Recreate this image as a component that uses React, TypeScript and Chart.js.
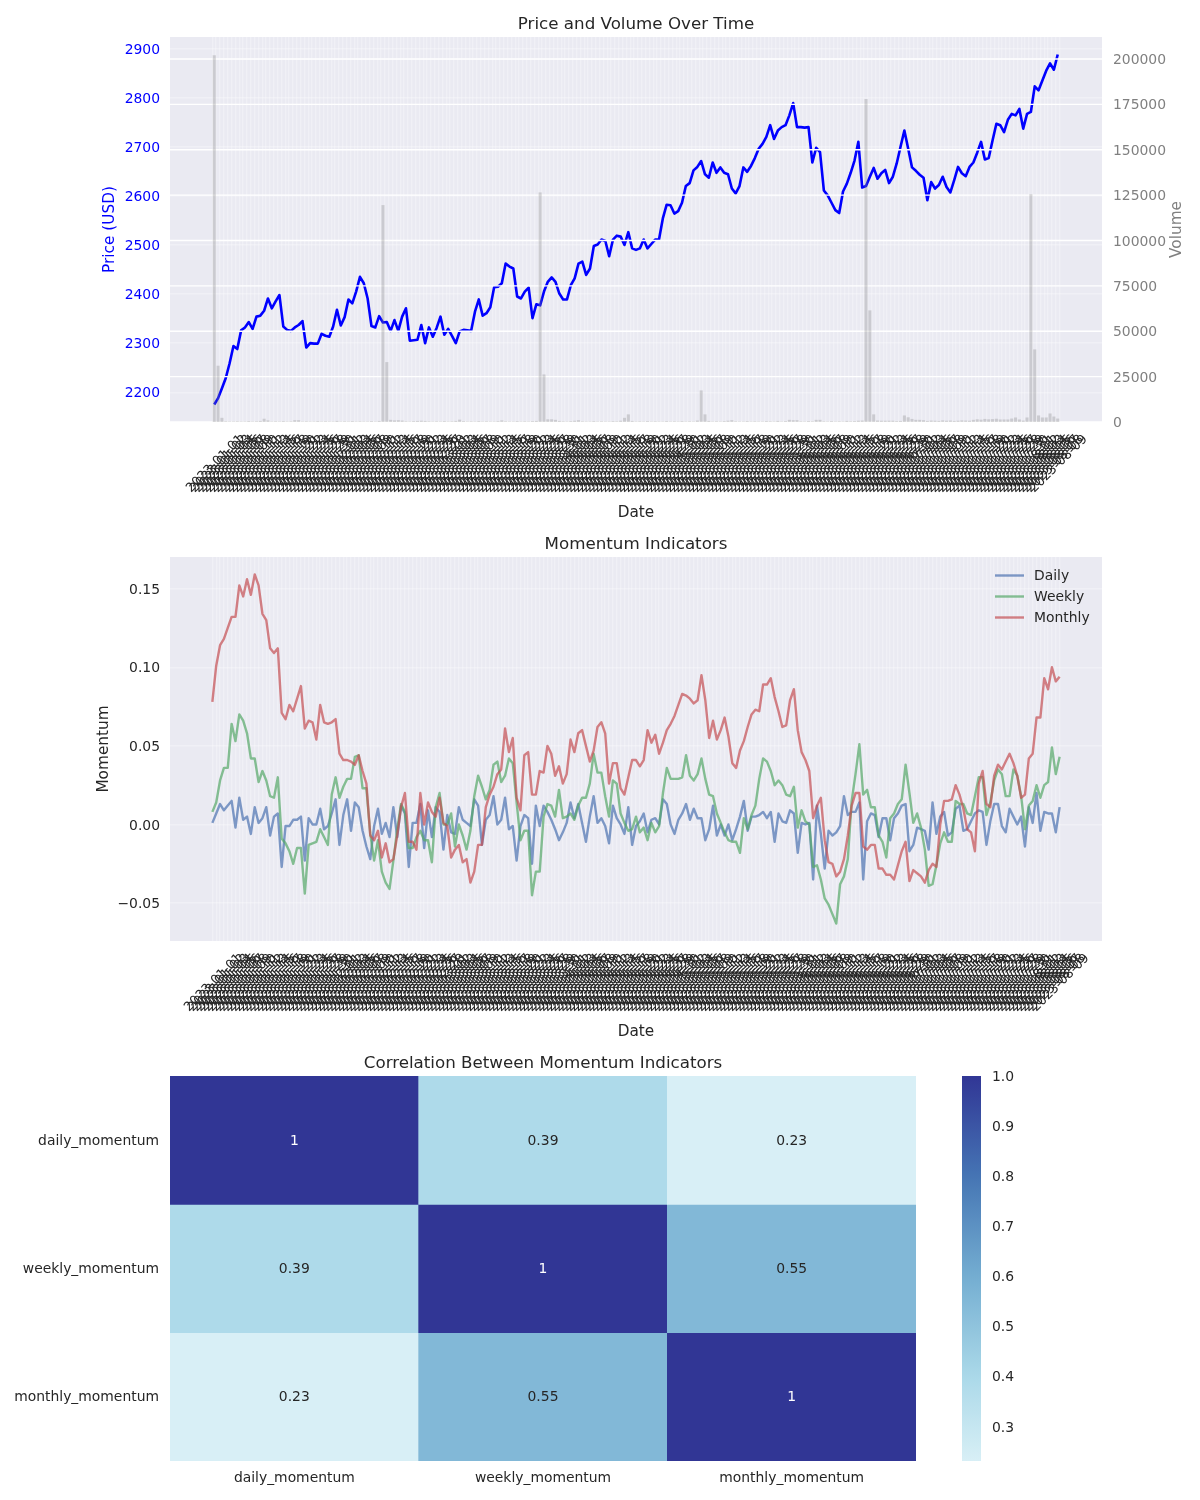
import React, { useEffect, useRef } from 'react';
import { Chart, registerables } from 'chart.js';

Chart.register(...registerables);

// ---------------- data ----------------
const START_DATE = '2023-01-01';

const PRICE = [
  2175, 2188, 2208, 2229, 2259, 2294, 2288, 2326, 2332, 2343,
  2329, 2354, 2356, 2366, 2391, 2371, 2385, 2398, 2334, 2327,
  2325, 2332, 2337, 2345, 2291, 2300, 2299, 2299, 2319, 2315,
  2313, 2334, 2368, 2336, 2353, 2389, 2381, 2405, 2435, 2422,
  2391, 2335, 2332, 2355, 2342, 2343, 2325, 2347, 2325, 2354,
  2371, 2305, 2306, 2307, 2337, 2300, 2332, 2313, 2331, 2354,
  2317, 2329, 2315, 2300, 2324, 2327, 2326, 2325, 2364, 2389,
  2356, 2361, 2373, 2414, 2415, 2422, 2462, 2456, 2452, 2395,
  2391, 2405, 2413, 2351, 2379, 2377, 2405, 2425, 2434, 2425,
  2401, 2389, 2389, 2418, 2432, 2462, 2466, 2439, 2452, 2498,
  2501, 2511, 2508, 2477, 2511, 2519, 2517, 2500, 2526, 2493,
  2490, 2493, 2511, 2493, 2502, 2511, 2511, 2554, 2582, 2581,
  2564, 2569, 2586, 2620, 2626, 2652, 2659, 2671, 2644, 2637,
  2668, 2647, 2658, 2647, 2644, 2615, 2605, 2620, 2658, 2649,
  2661, 2677, 2696, 2706, 2720, 2744, 2716, 2733, 2740, 2744,
  2764, 2789, 2740, 2740, 2739, 2740, 2668, 2698, 2689, 2611,
  2601, 2586, 2571, 2565, 2609, 2625, 2647, 2672, 2710, 2617,
  2620, 2639, 2657, 2635, 2646, 2653, 2626, 2639, 2666, 2700,
  2733, 2696, 2658, 2651, 2643, 2637, 2591, 2628, 2615, 2622,
  2639, 2618, 2607, 2632, 2659, 2646, 2640, 2659, 2668, 2688,
  2710, 2674, 2677, 2713, 2747, 2744, 2730, 2755, 2767, 2764,
  2777, 2737, 2767, 2771, 2823, 2815, 2835, 2855, 2870, 2857, 2888,
];

const VOLUME = [
  202000, 31000, 2300, 400, 300, 300, 400, 300, 300, 500,
  300, 400, 600, 1800, 900, 300, 400, 300, 500, 300,
  400, 1000, 1000, 300, 400, 300, 300, 500, 300, 400,
  300, 300, 600, 300, 400, 300, 500, 300, 400, 300,
  300, 500, 300, 600, 119500, 33000, 1200, 900, 1000, 800,
  400, 300, 500, 600, 700, 600, 400, 300, 400, 300,
  500, 300, 400, 600, 1300, 500, 300, 400, 300, 500,
  300, 400, 300, 300, 500, 900, 400, 300, 300, 500,
  300, 400, 300, 500, 600, 126500, 26200, 1500, 1500, 1200,
  600, 400, 300, 500, 700, 1000, 400, 300, 300, 500,
  300, 400, 300, 300, 500, 400, 700, 2300, 4200, 600,
  300, 400, 300, 500, 300, 400, 300, 300, 500, 300,
  400, 300, 500, 300, 400, 300, 800, 17400, 4200, 600,
  300, 400, 300, 500, 700, 1000, 400, 300, 300, 500,
  300, 400, 300, 300, 500, 400, 300, 600, 300, 500,
  1200, 1000, 1000, 400, 300, 500, 400, 1200, 1200, 400,
  300, 500, 300, 400, 300, 600, 400, 500, 700, 800,
  178000, 61500, 4200, 800, 700, 700, 700, 700, 500, 600,
  3600, 2600, 1700, 1200, 1200, 1000, 600, 800, 700, 600,
  900, 700, 800, 600, 700, 900, 800, 700, 1200, 1500,
  1300, 1700, 1500, 1600, 1800, 1400, 1400, 1400, 1900, 2500,
  1400, 800, 2500, 125500, 40000, 3600, 2500, 2500, 4700, 3000, 1900,
];

const DAILY_MOMENTUM = [
  0.001, 0.007, 0.013, 0.009, 0.012, 0.015, -0.002, 0.017, 0.003, 0.005,
  -0.006, 0.011, 0.001, 0.004, 0.011, -0.007, 0.005, 0.007, -0.027, -0.001,
  -0.001, 0.003, 0.003, 0.005, -0.023, 0.004, 0.000, 0.000, 0.010, -0.003,
  -0.001, 0.007, 0.016, -0.013, 0.006, 0.016, -0.004, 0.014, 0.011, -0.004,
  -0.014, -0.022, -0.001, 0.010, -0.006, 0.001, -0.008, 0.011, -0.008, 0.012,
  0.007, -0.027, 0.001, 0.001, 0.013, -0.015, 0.009, -0.008, 0.011, 0.008,
  -0.016, 0.006, -0.005, -0.006, 0.011, 0.003, 0.001, -0.001, 0.016, 0.012,
  -0.013, 0.003, 0.006, 0.018, 0.000, 0.003, 0.017, -0.003, -0.001, -0.023,
  -0.001, 0.006, 0.004, -0.025, 0.012, -0.001, 0.012, 0.008, 0.003, -0.003,
  -0.010, -0.005, 0.001, 0.014, 0.004, 0.013, 0.001, -0.011, 0.005, 0.018,
  0.001, 0.004, -0.001, -0.012, 0.012, 0.004, 0.000, -0.006, 0.011, -0.013,
  -0.001, 0.002, 0.007, -0.005, 0.003, 0.004, 0.000, 0.016, 0.013, 0.000,
  -0.006, 0.003, 0.007, 0.013, 0.003, 0.010, 0.004, 0.004, -0.010, -0.003,
  0.012, -0.007, 0.000, -0.007, 0.000, -0.010, -0.003, 0.005, 0.015, -0.004,
  0.005, 0.005, 0.006, 0.008, 0.004, 0.008, -0.011, 0.007, 0.002, 0.001,
  0.009, 0.007, -0.018, 0.001, 0.000, 0.001, -0.035, 0.012, -0.006, -0.028,
  -0.004, -0.007, -0.005, -0.001, 0.018, 0.006, 0.008, 0.008, 0.014, -0.035,
  0.002, 0.007, 0.006, -0.008, 0.004, 0.004, -0.010, 0.004, 0.007, 0.012,
  0.013, -0.017, -0.013, -0.002, -0.003, -0.004, -0.016, 0.014, -0.006, 0.005,
  0.008, -0.007, -0.005, 0.010, 0.012, -0.004, -0.003, 0.002, 0.007, 0.009,
  0.008, -0.013, 0.002, 0.013, 0.013, -0.001, -0.005, 0.010, 0.005, 0.000,
  0.005, -0.014, 0.011, 0.001, 0.020, -0.004, 0.008, 0.007, 0.007, -0.005, 0.011,
];

const WEEKLY_MOMENTUM = [
  0.008, 0.014, 0.028, 0.036, 0.036, 0.064, 0.053, 0.070, 0.066, 0.058,
  0.042, 0.042, 0.027, 0.034, 0.028, 0.018, 0.017, 0.030, -0.009, -0.012,
  -0.017, -0.025, -0.015, -0.015, -0.044, -0.013, -0.012, -0.011, -0.003, -0.008,
  -0.013, 0.019, 0.030, 0.017, 0.024, 0.029, 0.029, 0.043, 0.044, 0.023,
  0.023, -0.006, -0.023, -0.010, -0.030, -0.037, -0.041, -0.023, -0.003, 0.013,
  0.008, -0.015, -0.015, -0.008, -0.004, -0.010, -0.010, -0.024, 0.011, 0.020,
  0.000, 0.000, 0.007, -0.014, 0.000, -0.007, -0.016, -0.004, 0.018, 0.031,
  0.024, 0.016, 0.022, 0.038, 0.040, 0.027, 0.031, 0.042, 0.039, 0.014,
  -0.010, -0.004, -0.004, -0.045, -0.030, -0.030, 0.005, 0.013, 0.012, 0.005,
  0.022, 0.004, 0.005, 0.007, 0.003, 0.012, 0.017, 0.017, 0.026, 0.045,
  0.033, 0.033, 0.018, 0.005, 0.028, 0.026, 0.007, 0.001, -0.004, -0.003,
  0.005, -0.005, -0.002, -0.010, 0.001, -0.005, -0.001, 0.020, 0.036, 0.029,
  0.029, 0.029, 0.030, 0.044, 0.031, 0.028, 0.032, 0.042, 0.029, 0.019,
  0.018, 0.007, 0.001, -0.005, -0.010, -0.011, -0.011, -0.018, 0.004, -0.003,
  0.006, 0.012, 0.029, 0.042, 0.040, 0.034, 0.025, 0.028, 0.025, 0.019,
  0.018, 0.024, -0.002, 0.009, 0.002, 0.000, -0.027, -0.026, -0.035, -0.047,
  -0.051, -0.057, -0.063, -0.038, -0.033, -0.022, 0.015, 0.032, 0.051, 0.019,
  0.022, 0.011, 0.011, -0.007, -0.011, -0.021, 0.004, 0.007, 0.013, 0.016,
  0.038, 0.020, 0.001, 0.007, -0.002, -0.016, -0.039, -0.038, -0.026, -0.012,
  -0.005, -0.011, -0.011, 0.015, 0.013, 0.013, 0.007, 0.006, 0.018, 0.030,
  0.030, 0.006, 0.014, 0.028, 0.035, 0.032, 0.018, 0.018, 0.035, 0.031,
  0.018, -0.003, 0.012, 0.015, 0.025, 0.017, 0.025, 0.027, 0.049, 0.032, 0.043,
];

const MONTHLY_MOMENTUM = [
  0.078, 0.101, 0.114, 0.118, 0.125, 0.132, 0.132, 0.152, 0.145, 0.156,
  0.146, 0.159, 0.152, 0.134, 0.130, 0.112, 0.109, 0.112, 0.071, 0.067,
  0.076, 0.072, 0.080, 0.088, 0.061, 0.066, 0.065, 0.054, 0.076, 0.065,
  0.064, 0.065, 0.067, 0.045, 0.041, 0.041, 0.040, 0.038, 0.044, 0.034,
  0.026, -0.007, -0.010, -0.004, -0.021, -0.012, -0.024, -0.022, -0.007, 0.011,
  0.020, -0.011, -0.011, -0.016, 0.020, 0.000, 0.014, 0.008, 0.005, 0.017,
  0.001, -0.001, -0.021, -0.016, -0.013, -0.024, -0.022, -0.037, -0.030, -0.013,
  -0.013, 0.011, 0.019, 0.024, 0.032, 0.035, 0.061, 0.046, 0.055, 0.017,
  0.009, 0.044, 0.046, 0.019, 0.019, 0.034, 0.033, 0.050, 0.045, 0.031,
  0.037, 0.026, 0.032, 0.054, 0.046, 0.058, 0.060, 0.050, 0.040, 0.047,
  0.062, 0.065, 0.058, 0.026, 0.039, 0.039, 0.023, 0.019, 0.030, 0.041,
  0.041, 0.037, 0.041, 0.060, 0.052, 0.057, 0.045, 0.052, 0.060, 0.064,
  0.069, 0.076, 0.083, 0.082, 0.080, 0.077, 0.079, 0.095, 0.079, 0.055,
  0.066, 0.054, 0.060, 0.068, 0.056, 0.039, 0.036, 0.047, 0.053, 0.062,
  0.070, 0.073, 0.072, 0.089, 0.089, 0.093, 0.081, 0.072, 0.062, 0.063,
  0.079, 0.086, 0.060, 0.046, 0.041, 0.034, 0.004, 0.012, 0.017, -0.010,
  -0.024, -0.025, -0.033, -0.030, -0.022, -0.007, 0.012, 0.020, 0.020, -0.014,
  -0.016, -0.013, -0.013, -0.028, -0.028, -0.032, -0.032, -0.035, -0.026, -0.017,
  -0.011, -0.036, -0.029, -0.031, -0.033, -0.037, -0.029, -0.025, -0.027, 0.000,
  0.015, 0.015, 0.016, 0.025, 0.019, 0.010, -0.003, -0.005, -0.017, 0.026,
  0.034, 0.013, 0.011, 0.031, 0.038, 0.035, 0.040, 0.045, 0.039, 0.031,
  0.017, 0.019, 0.042, 0.045, 0.068, 0.068, 0.093, 0.086, 0.100, 0.091, 0.094,
];

const PRICE_TICKS = [2200, 2300, 2400, 2500, 2600, 2700, 2800, 2900];
const VOLUME_TICKS = [0, 25000, 50000, 75000, 100000, 125000, 150000, 175000, 200000];
const MOMENTUM_TICKS = [-0.05, 0, 0.05, 0.1, 0.15];
const SERIES_NAMES = ['Daily', 'Weekly', 'Monthly'];

const CORR_LABELS = ['daily_momentum', 'weekly_momentum', 'monthly_momentum'];
const CORR_DAILY = [1, 0.39, 0.232];
const CORR_WEEKLY = [0.39, 1, 0.55];
const CORR_MONTHLY = [0.232, 0.55, 1];
const COLORBAR_TICKS = [0.3, 0.4, 0.5, 0.6, 0.7, 0.8, 0.9, 1.0];

// ---------------- style ----------------
const FAMILY = "'DejaVu Sans', 'Liberation Sans', sans-serif";
const TEXT = '#262626';
const BG = '#eaeaf2';
const GRID_FAINT = 'rgba(255,255,255,0.3)';
const SERIES_COLORS = ['rgba(76,114,176,0.7)', 'rgba(85,168,104,0.7)', 'rgba(196,78,82,0.7)'];
const XTICK_SIZE = 13;
const TICK_SIZE = 13.9;
const LABEL_SIZE = 15.3;
const TITLE_SIZE = 16.7;
const Y_LABEL_SHIFT = 1.5;

const RDYLBU = ['#a50026', '#d73027', '#f46d43', '#fdae61', '#fee090', '#ffffbf', '#e0f3f8', '#abd9e9', '#74add1', '#4575b4', '#313695'];

function font(px: number) {
  return `${px}px ${FAMILY}`;
}

function makeDates(start: string, n: number): string[] {
  const base = new Date(start + 'T00:00:00Z').getTime();
  const out: string[] = [];
  for (let i = 0; i < n; i++) out.push(new Date(base + i * 86400000).toISOString().slice(0, 10));
  return out;
}
const DATES = makeDates(START_DATE, PRICE.length);

function paddedRange(values: number[], frac = 0.05): [number, number] {
  const lo = Math.min(...values);
  const hi = Math.max(...values);
  const d = (hi - lo) * frac;
  return [lo - d, hi + d];
}

function hexRgb(h: string): number[] {
  return [parseInt(h.slice(1, 3), 16), parseInt(h.slice(3, 5), 16), parseInt(h.slice(5, 7), 16)];
}

function cmapRgb(t: number): number[] {
  const tt = Math.max(0, Math.min(1, t));
  const p = tt * 10;
  const i = Math.min(9, Math.floor(p));
  const f = p - i;
  const a = hexRgb(RDYLBU[i]);
  const b = hexRgb(RDYLBU[i + 1]);
  return [0, 1, 2].map((k) => a[k] + (b[k] - a[k]) * f);
}

const CORR = [CORR_DAILY, CORR_WEEKLY, CORR_MONTHLY];
const CORR_MIN = Math.min(...CORR.flat());
const CORR_MAX = Math.max(...CORR.flat());
const CENTER = 0;
const VRANGE = Math.max(CORR_MAX - CENTER, CENTER - CORR_MIN);

function corrRgb(v: number): number[] {
  return cmapRgb((v - (CENTER - VRANGE)) / (2 * VRANGE));
}
function rgbStr(c: number[]) {
  return `rgb(${Math.round(c[0])},${Math.round(c[1])},${Math.round(c[2])})`;
}
function luminance(c: number[]) {
  const lin = c.map((x) => {
    const s = x / 255;
    return s <= 0.03928 ? s / 12.92 : Math.pow((s + 0.055) / 1.055, 2.4);
  });
  return 0.2126 * lin[0] + 0.7152 * lin[1] + 0.0722 * lin[2];
}

function drawText(ctx: any, text: string, x: number, y: number, size: number, color: string, rot = 0, align = 'center') {
  ctx.save();
  ctx.translate(x, y);
  if (rot) ctx.rotate(rot);
  ctx.fillStyle = color;
  ctx.font = font(size);
  ctx.textAlign = align;
  ctx.textBaseline = 'middle';
  ctx.fillText(text, 0, 0);
  ctx.restore();
}

function drawDateLabels(chart: any) {
  const { ctx, chartArea: a } = chart;
  const xs = chart.scales.x;
  ctx.save();
  ctx.fillStyle = TEXT;
  ctx.font = font(XTICK_SIZE);
  ctx.textAlign = 'center';
  ctx.textBaseline = 'alphabetic';
  DATES.forEach((d, i) => {
    const px = xs.getPixelForValue(i);
    ctx.save();
    ctx.translate(px, a.bottom + 41);
    ctx.rotate(-Math.PI / 4);
    ctx.fillText(d, 0, XTICK_SIZE * 0.36);
    ctx.restore();
  });
  ctx.restore();
}

function seriesDecor(cfg: any) {
  return {
    id: 'decor',
    beforeDraw(chart: any) {
      const { ctx, chartArea: a } = chart;
      ctx.save();
      ctx.fillStyle = BG;
      ctx.fillRect(a.left, a.top, a.right - a.left, a.bottom - a.top);
      ctx.restore();
    },
    beforeDatasetDraw(chart: any, args: any) {
      if (!cfg.volumeGrid || args.meta.type !== 'bar') return;
      const { ctx, chartArea: a } = chart;
      const s = chart.scales.y2;
      ctx.save();
      ctx.strokeStyle = '#ffffff';
      ctx.lineWidth = 1.4;
      s.ticks.forEach((t: any) => {
        const y = s.getPixelForValue(t.value);
        ctx.beginPath();
        ctx.moveTo(a.left, y);
        ctx.lineTo(a.right, y);
        ctx.stroke();
      });
      ctx.restore();
    },
    afterDraw(chart: any) {
      const { ctx, chartArea: a } = chart;
      const cx = (a.left + a.right) / 2;
      const cy = (a.top + a.bottom) / 2;
      drawDateLabels(chart);
      drawText(ctx, cfg.title, cx, a.top - 12.8, TITLE_SIZE, TEXT);
      drawText(ctx, 'Date', cx, a.bottom + 91.5, LABEL_SIZE, TEXT);
      drawText(ctx, cfg.yLabel, a.left - cfg.yLabelOffset, cy, LABEL_SIZE, cfg.yLabelColor, -Math.PI / 2);
      if (cfg.y2Label) drawText(ctx, cfg.y2Label, a.right + 75, cy, LABEL_SIZE, cfg.y2LabelColor, -Math.PI / 2);
      if (cfg.legend) {
        cfg.legend.forEach((item: any, k: number) => {
          const y = a.top + 18.5 + k * 21;
          ctx.save();
          ctx.strokeStyle = item.color;
          ctx.lineWidth = 2.4;
          ctx.beginPath();
          ctx.moveTo(a.right - 107, y);
          ctx.lineTo(a.right - 78, y);
          ctx.stroke();
          ctx.restore();
          drawText(ctx, item.label, a.right - 68, y + 1, TICK_SIZE, TEXT, 0, 'left');
        });
      }
    },
  };
}

const N = PRICE.length;
const X_MIN = -(N - 1) * 0.05;
const X_MAX = (N - 1) * 1.05;

function xScale(height: number) {
  return {
    type: 'linear',
    min: X_MIN,
    max: X_MAX,
    afterBuildTicks: (s: any) => {
      s.ticks = DATES.map((_, i) => ({ value: i }));
    },
    afterFit: (s: any) => {
      s.height = height;
    },
    ticks: { display: false, autoSkip: false },
    grid: { color: GRID_FAINT, lineWidth: 1.4, drawTicks: false },
    border: { display: false },
  };
}

const BASE_OPTS = {
  animation: false,
  responsive: false,
  devicePixelRatio: 1,
  events: [],
};

function priceConfig(): any {
  const [pMin, pMax] = paddedRange(PRICE);
  const vMax = Math.max(...VOLUME) * 1.05;
  return {
    type: 'line',
    data: {
      datasets: [
        {
          type: 'bar',
          label: 'Volume',
          data: VOLUME.map((v, i) => ({ x: i, y: v })),
          yAxisID: 'y2',
          backgroundColor: 'rgba(128,128,128,0.3)',
          borderWidth: 0,
          barPercentage: 0.8,
          categoryPercentage: 1,
          order: 0,
        },
        {
          type: 'line',
          label: 'Price',
          data: PRICE.map((v, i) => ({ x: i, y: v })),
          yAxisID: 'y',
          borderColor: '#0000ff',
          borderWidth: 2.6,
          pointRadius: 0,
          tension: 0,
          borderJoinStyle: 'round',
          order: 1,
        },
      ],
    },
    options: {
      ...BASE_OPTS,
      layout: { padding: { top: 37, left: 0, right: 0, bottom: 0 } },
      plugins: { legend: { display: false }, tooltip: { enabled: false }, title: { display: false } },
      scales: {
        x: xScale(108),
        y: {
          type: 'linear',
          position: 'left',
          min: pMin,
          max: pMax,
          afterBuildTicks: (s: any) => {
            s.ticks = PRICE_TICKS.map((v) => ({ value: v }));
          },
          afterFit: (s: any) => {
            s.width = 170;
          },
          ticks: {
            color: '#0000ff',
            font: { family: FAMILY, size: TICK_SIZE },
            padding: 10,
            labelOffset: Y_LABEL_SHIFT,
            callback: (v: any) => String(v),
          },
          grid: { color: GRID_FAINT, lineWidth: 1.4, drawTicks: false },
          border: { display: false },
        },
        y2: {
          type: 'linear',
          position: 'right',
          min: 0,
          max: vMax,
          afterBuildTicks: (s: any) => {
            s.ticks = VOLUME_TICKS.map((v) => ({ value: v }));
          },
          afterFit: (s: any) => {
            s.width = 98;
          },
          ticks: {
            color: '#808080',
            font: { family: FAMILY, size: TICK_SIZE },
            padding: 11,
            labelOffset: Y_LABEL_SHIFT,
            callback: (v: any) => String(v),
          },
          grid: { display: false, drawTicks: false },
          border: { display: false },
        },
      },
    },
    plugins: [
      seriesDecor({
        title: 'Price and Volume Over Time',
        yLabel: 'Price (USD)',
        yLabelColor: '#0000ff',
        yLabelOffset: 60,
        y2Label: 'Volume',
        y2LabelColor: '#808080',
        volumeGrid: true,
      }),
    ],
  };
}

function momentumConfig(): any {
  const series = [DAILY_MOMENTUM, WEEKLY_MOMENTUM, MONTHLY_MOMENTUM];
  const [mMin, mMax] = paddedRange(series.flat());
  return {
    type: 'line',
    data: {
      datasets: series.map((s, k) => ({
        label: SERIES_NAMES[k],
        data: s.map((v, i) => ({ x: i, y: v })),
        borderColor: SERIES_COLORS[k],
        borderWidth: 2.4,
        pointRadius: 0,
        tension: 0,
        borderJoinStyle: 'round',
        order: 3 - k,
      })),
    },
    options: {
      ...BASE_OPTS,
      layout: { padding: { top: 27, left: 0, right: 98, bottom: 0 } },
      plugins: { legend: { display: false }, tooltip: { enabled: false }, title: { display: false } },
      scales: {
        x: xScale(109),
        y: {
          type: 'linear',
          min: mMin,
          max: mMax,
          afterBuildTicks: (s: any) => {
            s.ticks = MOMENTUM_TICKS.map((v) => ({ value: v }));
          },
          afterFit: (s: any) => {
            s.width = 170;
          },
          ticks: {
            color: TEXT,
            font: { family: FAMILY, size: TICK_SIZE },
            padding: 10,
            labelOffset: Y_LABEL_SHIFT,
            callback: (v: any) => (Math.abs(v) < 1e-9 ? '0.00' : Number(v).toFixed(2).replace('-', '\u2212')),
          },
          grid: { color: GRID_FAINT, lineWidth: 1.4, drawTicks: false },
          border: { display: false },
        },
      },
    },
    plugins: [
      seriesDecor({
        title: 'Momentum Indicators',
        yLabel: 'Momentum',
        yLabelColor: TEXT,
        yLabelOffset: 66,
        legend: SERIES_NAMES.map((label, k) => ({ label, color: SERIES_COLORS[k] })),
      }),
    ],
  };
}

function heatmapConfig(): any {
  return {
    type: 'bar',
    data: {
      labels: CORR_LABELS,
      datasets: CORR.map((row, r) => ({
        label: CORR_LABELS[r],
        data: row.map(() => [r, r + 1]),
        backgroundColor: row.map((v) => rgbStr(corrRgb(v))),
        borderWidth: 0,
        barPercentage: 1,
        categoryPercentage: 1,
        grouped: false,
      })),
    },
    options: {
      ...BASE_OPTS,
      layout: { padding: { top: 26, left: 0, right: 24, bottom: 0 } },
      plugins: { legend: { display: false }, tooltip: { enabled: false }, title: { display: false } },
      scales: {
        x: {
          type: 'category',
          grid: { display: false, drawTicks: false },
          border: { display: false },
          afterFit: (s: any) => {
            s.height = 39;
          },
          ticks: { color: TEXT, font: { family: FAMILY, size: TICK_SIZE }, padding: 9 },
        },
        y: {
          type: 'linear',
          min: 0,
          max: CORR_LABELS.length,
          reverse: true,
          afterBuildTicks: (s: any) => {
            s.ticks = CORR_LABELS.map((_, i) => ({ value: i + 0.5 }));
          },
          afterFit: (s: any) => {
            s.width = 170;
          },
          grid: { display: false, drawTicks: false },
          border: { display: false },
          ticks: {
            color: TEXT,
            font: { family: FAMILY, size: TICK_SIZE },
            padding: 11,
            labelOffset: 1,
            callback: (v: any) => CORR_LABELS[Math.floor(v)],
          },
        },
      },
    },
    plugins: [
      {
        id: 'heatDecor',
        afterDatasetsDraw(chart: any) {
          const { ctx } = chart;
          const xs = chart.scales.x;
          const ys = chart.scales.y;
          CORR.forEach((row, r) =>
            row.forEach((v, c) => {
              const col = corrRgb(v);
              const txt = String(Number(v.toPrecision(2)));
              drawText(ctx, txt, xs.getPixelForValue(c), ys.getPixelForValue(r + 0.5) + 1, TICK_SIZE, luminance(col) > 0.408 ? TEXT : '#ffffff');
            })
          );
        },
        afterDraw(chart: any) {
          const a = chart.chartArea;
          drawText(chart.ctx, 'Correlation Between Momentum Indicators', (a.left + a.right) / 2, a.top - 12.3, TITLE_SIZE, TEXT);
        },
      },
    ],
  };
}

function colorbarConfig(): any {
  return {
    type: 'bar',
    data: {
      labels: [''],
      datasets: [
        {
          data: [[CORR_MIN, CORR_MAX]],
          borderWidth: 0,
          barPercentage: 1,
          categoryPercentage: 1,
          backgroundColor: (c: any) => {
            const a = c.chart.chartArea;
            if (!a) return 'transparent';
            const g = c.chart.ctx.createLinearGradient(0, a.bottom, 0, a.top);
            for (let k = 0; k <= 24; k++) {
              g.addColorStop(k / 24, rgbStr(corrRgb(CORR_MIN + ((CORR_MAX - CORR_MIN) * k) / 24)));
            }
            return g;
          },
        },
      ],
    },
    options: {
      ...BASE_OPTS,
      layout: { padding: { top: 26, left: 22, right: 0, bottom: 39 } },
      plugins: { legend: { display: false }, tooltip: { enabled: false }, title: { display: false } },
      scales: {
        x: { display: false },
        y: {
          type: 'linear',
          position: 'right',
          min: CORR_MIN,
          max: CORR_MAX,
          afterBuildTicks: (s: any) => {
            s.ticks = COLORBAR_TICKS.map((v) => ({ value: v }));
          },
          afterFit: (s: any) => {
            s.width = 59;
          },
          grid: { display: false, drawTicks: false },
          border: { display: false },
          ticks: {
            color: TEXT,
            font: { family: FAMILY, size: TICK_SIZE },
            padding: 11,
            labelOffset: 1,
            callback: (v: any) => Number(v).toFixed(1),
          },
        },
      },
    },
  };
}

export default function App() {
  const priceRef = useRef<HTMLCanvasElement>(null);
  const momRef = useRef<HTMLCanvasElement>(null);
  const heatRef = useRef<HTMLCanvasElement>(null);
  const barRef = useRef<HTMLCanvasElement>(null);

  useEffect(() => {
    const charts: Chart[] = [];
    if (priceRef.current) charts.push(new Chart(priceRef.current, priceConfig()));
    if (momRef.current) charts.push(new Chart(momRef.current, momentumConfig()));
    if (heatRef.current) charts.push(new Chart(heatRef.current, heatmapConfig()));
    if (barRef.current) charts.push(new Chart(barRef.current, colorbarConfig()));
    return () => charts.forEach((c) => c.destroy());
  }, []);

  return (
    <div style={{ position: 'absolute', left: 0, top: 0, width: 1200, height: 1500, background: '#ffffff' }}>
      <canvas ref={priceRef} width={1200} height={530} style={{ position: 'absolute', left: 0, top: 0 }} />
      <canvas ref={momRef} width={1200} height={520} style={{ position: 'absolute', left: 0, top: 530 }} />
      <canvas ref={heatRef} width={940} height={450} style={{ position: 'absolute', left: 0, top: 1050 }} />
      <canvas ref={barRef} width={100} height={450} style={{ position: 'absolute', left: 940, top: 1050 }} />
    </div>
  );
}
